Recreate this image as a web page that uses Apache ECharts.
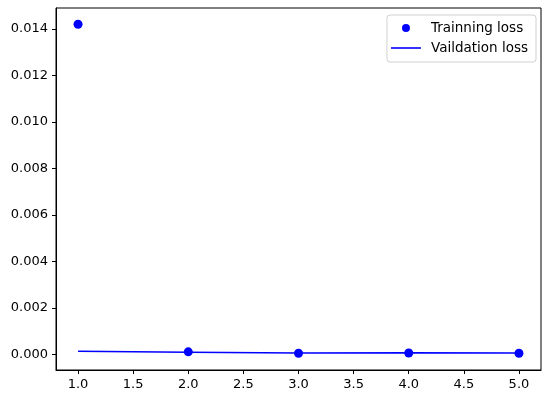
<!DOCTYPE html>
<html>
<head>
<meta charset="utf-8">
<script src="https://cdn.jsdelivr.net/npm/echarts@6/dist/echarts.min.js"></script>
<style>
  html, body { margin: 0; padding: 0; background: #fff; }
  #main { width: 550px; height: 398px; }
</style>
</head>
<body>
<div id="main"></div>
<script>
// 数据
var epochs = [1, 2, 3, 4, 5]
var trainLoss = [0.0142, 0.00012, 0.00006, 0.00007, 0.00006]
var valLoss = [0.00015, 0.0001, 0.00007, 0.00008, 0.00007]
var xTicks = [1.0, 1.5, 2.0, 2.5, 3.0, 3.5, 4.0, 4.5, 5.0]
var yTicks = [0, 0.002, 0.004, 0.006, 0.008, 0.010, 0.012, 0.014]

var font = 'DejaVu Sans'
var myChart = echarts.init(document.getElementById('main'))

var options = {
  animation: false,
  backgroundColor: '#fff',
  grid: {
    left: 56, right: 9, top: 8, bottom: 28,
    show: true, borderColor: '#000', borderWidth: 1
  },
  legend: {
    orient: 'vertical',
    right: 14, top: 15,
    itemWidth: 30, itemHeight: 8, itemGap: 6,
    padding: [6, 8, 7, 4],
    backgroundColor: '#fff',
    borderColor: '#d0d0d0', borderWidth: 1, borderRadius: 3,
    textStyle: { fontFamily: font, fontSize: 13.5, color: '#000', padding: [0, 0, 0, 5] },
    data: [
      { name: 'Trainning loss', icon: 'circle' },
      { name: 'Vaildation loss', icon: 'path://M0,0L30,0L30,1.6L0,1.6Z' }
    ]
  },
  xAxis: {
    type: 'value',
    min: 0.8, max: 5.2,
    splitLine: { show: false },
    axisLine: { show: true, onZero: false, lineStyle: { color: '#000' } },
    axisTick: { show: true, length: 4, customValues: xTicks, lineStyle: { color: '#000' } },
    axisLabel: {
      customValues: xTicks, margin: 8,
      fontFamily: font, fontSize: 13, color: '#000',
      formatter: function (v) { return v.toFixed(1) }
    }
  },
  yAxis: {
    type: 'value',
    min: -0.00066, max: 0.0149,
    splitLine: { show: false },
    axisLine: { show: true, lineStyle: { color: '#000' } },
    axisTick: { show: true, length: 4, customValues: yTicks, lineStyle: { color: '#000' } },
    axisLabel: {
      customValues: yTicks, margin: 8,
      fontFamily: font, fontSize: 13, color: '#000',
      formatter: function (v) { return v.toFixed(3) }
    }
  },
  series: [
    {
      name: 'Trainning loss',
      type: 'scatter',
      symbol: 'circle',
      symbolSize: 9,
      itemStyle: { color: '#0000ff', opacity: 1 },
      data: epochs.map(function (e, i) { return [e, trainLoss[i]] }),
      z: 3
    },
    {
      name: 'Vaildation loss',
      type: 'line',
      symbol: 'none',
      lineStyle: { color: '#0000ff', width: 1.5 },
      itemStyle: { color: '#0000ff' },
      data: epochs.map(function (e, i) { return [e, valLoss[i]] }),
      z: 2
    }
  ]
}

myChart.setOption(options)
</script>
</body>
</html>
